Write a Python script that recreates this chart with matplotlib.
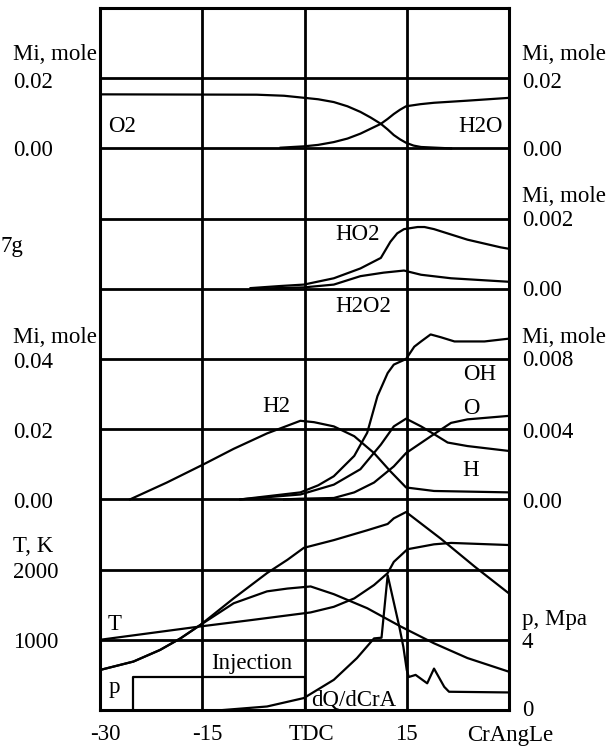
import matplotlib.pyplot as plt
import numpy as np

# --- data (crank angle in degrees, TDC = 0) ---
o2_deg = [-30, -7, -3, 0, 2, 4.3, 6.3, 8.2, 9.7, 11.2, 12.2, 13.1, 14, 14.9, 16, 17.1, 21.5]
o2_mol = [0.0154, 0.0153, 0.0150, 0.0144, 0.0140, 0.0132, 0.0120, 0.0104, 0.0088, 0.0070,
          0.0054, 0.0038, 0.0026, 0.0016, 0.0008, 0.0004, 0.0]
h2o_deg = [-3.5, 0, 2, 4.3, 6.3, 8.2, 9.7, 11.2, 12.2, 13.1, 14, 14.9, 17, 19, 23.9, 30]
h2o_mol = [0.0002, 0.0006, 0.0010, 0.0018, 0.0028, 0.0042, 0.0056, 0.0070, 0.0084, 0.0098,
           0.0110, 0.0120, 0.0126, 0.0130, 0.0136, 0.0144]

ho2_deg = [-7.9, -3.5, -0.1, 4.3, 8.2, 11.2, 12.6, 13.6, 14.6, 16.6, 17.6, 19, 23.9, 28.8, 30]
ho2_mol = [0.00002, 0.00008, 0.00012, 0.0003, 0.00058, 0.00088, 0.00134, 0.00158, 0.0017,
           0.00176, 0.00176, 0.0017, 0.0014, 0.00118, 0.00114]
h2o2_deg = [-7.9, -0.1, 4.3, 8.2, 11.6, 14.6, 17.1, 21.5, 30]
h2o2_mol = [0, 0.00004, 0.00012, 0.00036, 0.00046, 0.00052, 0.0004, 0.0003, 0.0002]

h2_deg = [-25.6, -20.2, -14.8, -10.4, -5.5, -2.5, -0.6, 1.4, 4.3, 7.3, 10.2, 12.6, 14.9, 19, 30]
h2_mol = [0, 0.0048, 0.0100, 0.0144, 0.0188, 0.021, 0.0224, 0.022, 0.0208, 0.018, 0.0132,
          0.008, 0.0034, 0.0024, 0.002]
oh_deg = [-9.4, -0.6, 2, 4.3, 7.3, 9.2, 10.7, 12.2, 13.1, 14.9, 16.1, 17.1, 18.5, 20, 22, 26.4, 30]
oh_mol = [0, 0.0004, 0.0008, 0.00132, 0.00248, 0.0038, 0.00588, 0.0072, 0.00768, 0.0080,
          0.0087, 0.0090, 0.0094, 0.00924, 0.009, 0.009, 0.00916]
h_deg = [-9.4, -0.6, 4.3, 8.2, 11.2, 13.1, 14.9, 17.1, 19, 21, 23.9, 30]
h_mol = [0, 0.00028, 0.00084, 0.00172, 0.00312, 0.00416, 0.0046, 0.00416, 0.00372, 0.00324,
         0.00304, 0.00276]
o_deg = [-3, -0.6, 4.3, 7.3, 10.2, 13.1, 14.9, 19, 21.5, 23.9, 30]
o_mol = [0, 0.00004, 0.00008, 0.0004, 0.00096, 0.00188, 0.00264, 0.00372, 0.00436, 0.00456, 0.00476]

t_deg = [-30, -15.3, -7.9, 0.9, 4.3, 7.3, 10.2, 12.2, 13.1, 15.1, 19, 21.5, 30]
t_gas = [1000, 1190, 1280, 1390, 1470, 1590, 1780, 1950, 2110, 2290, 2360, 2380, 2350]
tf_deg = [-30, -25.1, -21.2, -18.2, -15.3, -10.4, -5.5, -2.5, -0.1, 4.3, 9.2, 12.2, 13.1, 14.9,
          20, 25, 30]
t_flame = [570, 690, 855, 1020, 1210, 1590, 1950, 2140, 2310, 2420, 2560, 2650, 2730, 2820,
           2440, 2040, 1660]
p_deg = [-30, -25.1, -21.2, -18.2, -15.3, -10.4, -5.5, -2.5, 0.9, 4.3, 9.2, 14.1, 19, 23.9, 30]
p_mpa = [2.28, 2.76, 3.42, 4.08, 4.84, 6.08, 6.76, 6.92, 7.04, 6.6, 5.8, 4.76, 3.8, 2.96, 2.18]
dq_deg = [-11.9, -5.5, -0.1, 4.3, 7.7, 10.2, 11.3, 12.2, 13.9, 14.5, 15.0, 15.3, 16.3, 18.0,
          19.0, 20.5, 21.2, 30]
dq = [0, 0.05, 0.17, 0.43, 0.74, 1.02, 1.03, 1.92, 1.19, 0.9, 0.57, 0.47, 0.5, 0.38, 0.59,
      0.33, 0.26, 0.25]
inj_deg = [-25.1, -25.1, 0.0, 0.0]
inj = [0, 0.47, 0.47, 0]

W, H = 607, 749
FS = 16.5
plt.rcParams['font.family'] = ['Liberation Serif', 'DejaVu Serif']

fig = plt.figure(figsize=(W / 100, H / 100), dpi=100)
ax = fig.add_axes([100 / W, 39 / H, 409 / W, 702 / H])
ax.set_xlim(-30, 30)
ax.set_ylim(0, 10)
ax.set_xticks([-30, -15, 0, 15, 30])
ax.set_yticks(range(11))
ax.grid(True, color='black', lw=2.0)
ax.tick_params(length=0, labelbottom=False, labelleft=False)
for s in ax.spines.values():
    s.set_linewidth(2.2)


def band(x, y, base, scale):
    ax.plot(x, base + np.array(y) / scale, color='black', lw=1.6)


band(o2_deg, o2_mol, 8, 0.02)
band(h2o_deg, h2o_mol, 8, 0.02)
band(ho2_deg, ho2_mol, 6, 0.002)
band(h2o2_deg, h2o2_mol, 6, 0.002)
band(h2_deg, h2_mol, 3, 0.02)
band(oh_deg, oh_mol, 3, 0.004)
band(h_deg, h_mol, 3, 0.004)
band(o_deg, o_mol, 3, 0.004)
band(t_deg, t_gas, 0, 1000)
band(tf_deg, t_flame, 0, 1000)
band(p_deg, p_mpa, 0, 4)
band(dq_deg, dq, 0, 1)
band(inj_deg, inj, 0, 1)


def label(x, y, s, ha='left'):
    # y in pixels from the top; small shift so glyphs sit where they do in the original
    fig.text(x / W, 1 - (y + 2) / H, s, ha=ha, va='center', fontsize=FS)


for s, y in [("Mi, mole", 53), ("0.02", 80), ("0.00", 149), ("Mi, mole", 335), ("0.04", 360),
             ("0.02", 430), ("0.00", 500), ("T, K", 545), ("2000", 570), ("1000", 640)]:
    label(13, y, s)
label(0, 245, "7g")
for s, y in [("Mi, mole", 53), ("0.02", 80), ("0.00", 149), ("Mi, mole", 195), ("0.002", 219),
             ("0.00", 289), ("Mi, mole", 335), ("0.008", 359), ("0.004", 430), ("0.00", 500),
             ("p, Mpa", 617), ("4", 640), ("0", 709)]:
    label(522, y, s)
for s, x in [("-30", 105), ("-15", 207), ("TDC", 311), ("15", 406), ("CrAngLe", 510)]:
    label(x, 733, s, ha='center')
for s, x, y in [("O2", 122, 125), ("H2O", 481, 125), ("HO2", 358, 232), ("H2O2", 363, 305),
                ("H2", 276, 405), ("OH", 480, 372), ("O", 471, 407), ("H", 471, 468),
                ("T", 115, 623), ("p", 114, 685), ("Injection", 252, 662), ("dQ/dCrA", 354, 698)]:
    label(x, y, s, ha='center')

fig.savefig("out.png", dpi=100)
